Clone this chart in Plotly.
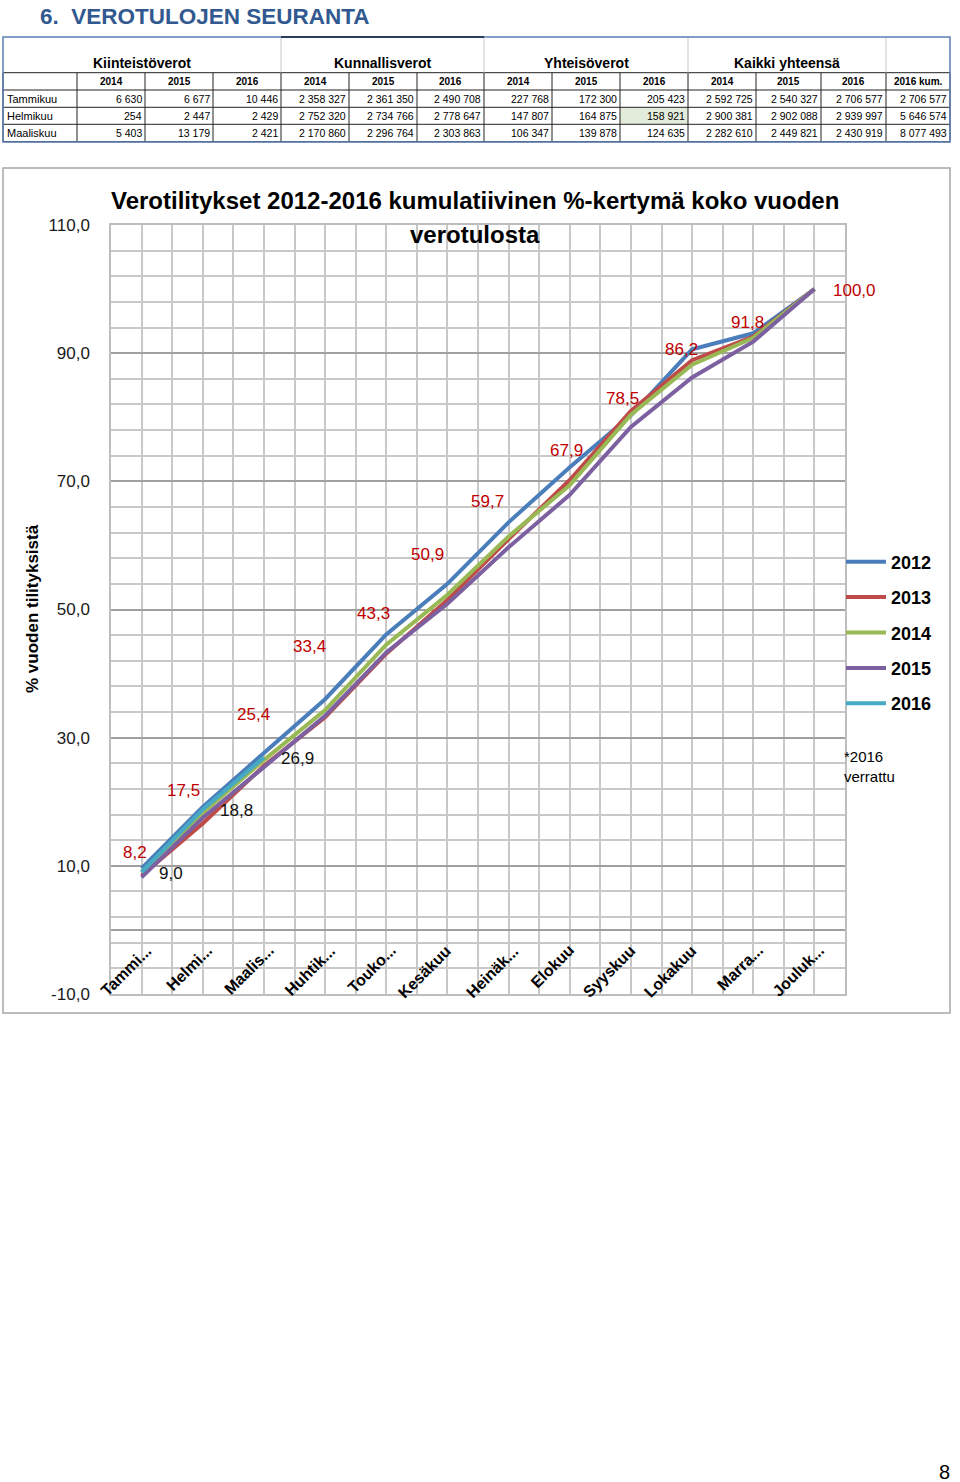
import plotly.graph_objects as go

# ---------------- table data ----------------
tbl_months = ["Tammikuu", "Helmikuu", "Maaliskuu"]
tbl_groups = ["Kiinteistöverot", "Kunnallisverot", "Yhteisöverot", "Kaikki yhteensä"]
tbl_years = ["2014", "2015", "2016", "2014", "2015", "2016",
             "2014", "2015", "2016", "2014", "2015", "2016", "2016 kum."]
kiint_2014 = [6630, 254, 5403]
kiint_2015 = [6677, 2447, 13179]
kiint_2016 = [10446, 2429, 2421]
kunn_2014 = [2358327, 2752320, 2170860]
kunn_2015 = [2361350, 2734766, 2296764]
kunn_2016 = [2490708, 2778647, 2303863]
yht_2014 = [227768, 147807, 106347]
yht_2015 = [172300, 164875, 139878]
yht_2016 = [205423, 158921, 124635]
kaikki_2014 = [2592725, 2900381, 2282610]
kaikki_2015 = [2540327, 2902088, 2449821]
kaikki_2016 = [2706577, 2939997, 2430919]
kum_2016 = [2706577, 5646574, 8077493]

# ---------------- chart data ----------------
months = ["Tammi...", "Helmi...", "Maalis...", "Huhtik...", "Touko...", "Kesäkuu",
          "Heinäk...", "Elokuu", "Syyskuu", "Lokakuu", "Marra...", "Jouluk..."]
years = ["2012", "2013", "2014", "2015", "2016"]
s2012 = [9.6, 19.2, 27.6, 36.0, 46.1, 54.0, 63.6, 72.2, 80.3, 90.6, 93.1, 100.0]
s2013 = [8.5, 16.6, 25.6, 33.2, 43.1, 51.5, 61.0, 70.2, 81.0, 88.9, 92.6, 100.0]
s2014 = [9.0, 18.3, 26.5, 34.3, 44.5, 52.3, 61.4, 69.4, 80.4, 88.2, 92.4, 100.0]
s2015 = [8.2, 17.5, 25.4, 33.4, 43.3, 50.9, 59.7, 67.9, 78.5, 86.2, 91.8, 100.0]
s2016 = [9.0, 18.8, 26.9]
y_ticks = [-10, 10, 30, 50, 70, 90, 110]

# label offsets (pixels: right, up)
lbl15_off = [(-7, 25), (-19, 27), (-10, 53), (-16, 69), (-13, 39), (-20, 49),
             (-21, 46), (-3, 44), (-8, 28), (-11, 28), (-6, 19), (40, -1)]
lbl16_off = [(29, -1), (34, -1), (34, -1)]

colors = ["#4A7EBB", "#BE4B48", "#98B954", "#7D60A0", "#46AAC5"]
FONT = "Liberation Sans, Arial, sans-serif"

W, H = 960, 1482
L, R, T, B = 111, 845, 225, 994


def px(x):
    return (x - L) / (R - L)


def py(y):
    return (B - y) / (B - T)


def fmt(v):
    return f"{v:,}".replace(",", " ")


def dec(v):
    return f"{v:.1f}".replace(".", ",")


def note(x, y, text, size, xanchor="center", color="black", weight="normal", angle=0):
    return dict(x=px(x), y=py(y), xref="paper", yref="paper", showarrow=False,
                text=text, xanchor=xanchor, yanchor="middle", textangle=angle,
                font=dict(family=FONT, size=size, color=color, weight=weight))


fig = go.Figure()
series = [s2012, s2013, s2014, s2015, s2016]
for name, vals, col in zip(years, series, colors):
    fig.add_trace(go.Scatter(
        x=list(range(len(vals))), y=vals, mode="lines", name=name,
        legendgroup=name,
        line=dict(color=col, width=4), hoverinfo="skip"))

annotations = []
# data labels
for i, v in enumerate(s2015):
    dx, up = lbl15_off[i]
    annotations.append(dict(x=i, y=v, xref="x", yref="y", text=dec(v), showarrow=False,
                            xanchor="center", yanchor="middle",
                            xshift=dx, yshift=up, font=dict(family=FONT, size=17, color="#C00000")))
for i, v in enumerate(s2016):
    dx, up = lbl16_off[i]
    annotations.append(dict(x=i, y=v, xref="x", yref="y", text=dec(v), showarrow=False,
                            xanchor="center", yanchor="middle",
                            xshift=dx, yshift=up, font=dict(family=FONT, size=17, color="#111111")))
# x category labels (rotated)
for i, m in enumerate(months):
    annotations.append(dict(x=i, y=0, xref="x", yref="y", text=m, showarrow=False,
                            textangle=-45, xanchor="right", yanchor="top",
                            xshift=16 if m.endswith("...") else 10, yshift=-9,
                            font=dict(family=FONT, size=16, color="black", weight="bold")))
# chart title
annotations.append(note(475, 200, "Verotilitykset 2012-2016 kumulatiivinen %-kertymä koko vuoden",
                        24, weight="bold"))
annotations.append(note(475, 234, "verotulosta", 24, weight="bold"))
# y title
annotations.append(note(32, 609, "% vuoden tilityksistä", 17, weight="bold", angle=-90))
# note
annotations.append(note(842, 756, "*2016", 15, xanchor="left"))
annotations.append(note(842, 776, "verrattu", 15, xanchor="left"))
# page heading
annotations.append(note(38, 17, "6.  VEROTULOJEN SEURANTA", 22.5, xanchor="left",
                        color="#31598F", weight="bold"))
# page number
annotations.append(note(944, 1472, "8", 20))

# ---------------- table drawing ----------------
shapes = []
col_x = [3, 77, 145, 213, 281, 349, 417, 484, 552, 620, 688, 756, 821, 886, 950]
row_y = [72.7, 90, 107.3, 124.3, 141.7]
# green cell
shapes.append(dict(type="rect", xref="paper", yref="paper", x0=px(620), x1=px(688),
                   y0=py(124.3), y1=py(107.3), fillcolor="#E3ECDA", line=dict(width=0), layer="below"))
for yy in row_y:
    shapes.append(dict(type="line", xref="paper", yref="paper", x0=px(3), x1=px(950),
                       y0=py(yy), y1=py(yy), line=dict(color="#222222", width=1)))
for xx in col_x:
    shapes.append(dict(type="line", xref="paper", yref="paper", x0=px(xx), x1=px(xx),
                       y0=py(72.7), y1=py(141.7), line=dict(color="#222222", width=1)))
for xx in [281, 484, 688, 886]:
    shapes.append(dict(type="line", xref="paper", yref="paper", x0=px(xx), x1=px(xx),
                       y0=py(37), y1=py(72.7), line=dict(color="#C8C8C8", width=1)))
shapes.append(dict(type="rect", xref="paper", yref="paper", x0=px(3), x1=px(950),
                   y0=py(142), y1=py(37), line=dict(color="#5B7DB3", width=1.5)))
shapes.append(dict(type="line", xref="paper", yref="paper", x0=px(281), x1=px(484),
                   y0=py(37), y1=py(37), line=dict(color="#2B3D5C", width=2)))
# chart outer box
shapes.append(dict(type="rect", xref="paper", yref="paper", x0=px(3), x1=px(950),
                   y0=py(1013), y1=py(168), line=dict(color="#A6A6A6", width=1.5)))

group_cx = [142, 382.5, 586, 787]
for g, cx in zip(tbl_groups, group_cx):
    annotations.append(note(cx, 63, g, 14, weight="bold"))
for j, yr in enumerate(tbl_years):
    cx = (col_x[j + 1] + col_x[j + 2]) / 2
    annotations.append(note(cx, 81.4, yr, 10, weight="bold"))
tbl_cols = [kiint_2014, kiint_2015, kiint_2016, kunn_2014, kunn_2015, kunn_2016,
            yht_2014, yht_2015, yht_2016, kaikki_2014, kaikki_2015, kaikki_2016, kum_2016]
for r, m in enumerate(tbl_months):
    cy = (row_y[r + 1] + row_y[r + 2]) / 2
    annotations.append(note(5, cy, m, 11, xanchor="left"))
    for j, col in enumerate(tbl_cols):
        annotations.append(note(col_x[j + 2] - 1.5, cy, fmt(col[r]), 10.5, xanchor="right"))

fig.update_layout(
    width=W, height=H,
    margin=dict(l=L, r=W - R, t=T, b=H - B, pad=0),
    paper_bgcolor="white", plot_bgcolor="white",
    font=dict(family=FONT),
    showlegend=True,
    legend=dict(x=px(841), y=py(543.5), xanchor="left", yanchor="top",
                font=dict(family=FONT, size=18, color="black", weight="bold"),
                bgcolor="rgba(0,0,0,0)", tracegroupgap=9, itemwidth=40),
    annotations=annotations,
    shapes=shapes,
)
fig.update_xaxes(
    range=[-0.5, 11.5], tickmode="array", tickvals=list(range(12)), showticklabels=False,
    showgrid=True, gridcolor="#C8C8C8", gridwidth=1.5, zeroline=False,
    showline=True, linecolor="#BDBDBD", linewidth=1.5, mirror=True,
    minor=dict(tickmode="linear", tick0=-0.5, dtick=1, showgrid=True,
               gridcolor="#C8C8C8", gridwidth=1.5),
)
fig.update_yaxes(
    range=[-10, 110], tickmode="array", tickvals=y_ticks,
    ticktext=[dec(v) for v in y_ticks],
    tickfont=dict(family=FONT, size=17, color="#1a1a1a"),
    ticks="outside", ticklen=16, tickcolor="rgba(0,0,0,0)",
    showgrid=True, gridcolor="#A0A0A0", gridwidth=1.5,
    zeroline=True, zerolinecolor="#A0A0A0", zerolinewidth=1.5,
    showline=True, linecolor="#BDBDBD", linewidth=1.5, mirror=True,
    minor=dict(tickmode="linear", tick0=-10, dtick=4, showgrid=True,
               gridcolor="#C8C8C8", gridwidth=1.5),
)

fig.write_html("out.html", config={"displayModeBar": False},
               post_script="document.body.style.margin='0px';")
